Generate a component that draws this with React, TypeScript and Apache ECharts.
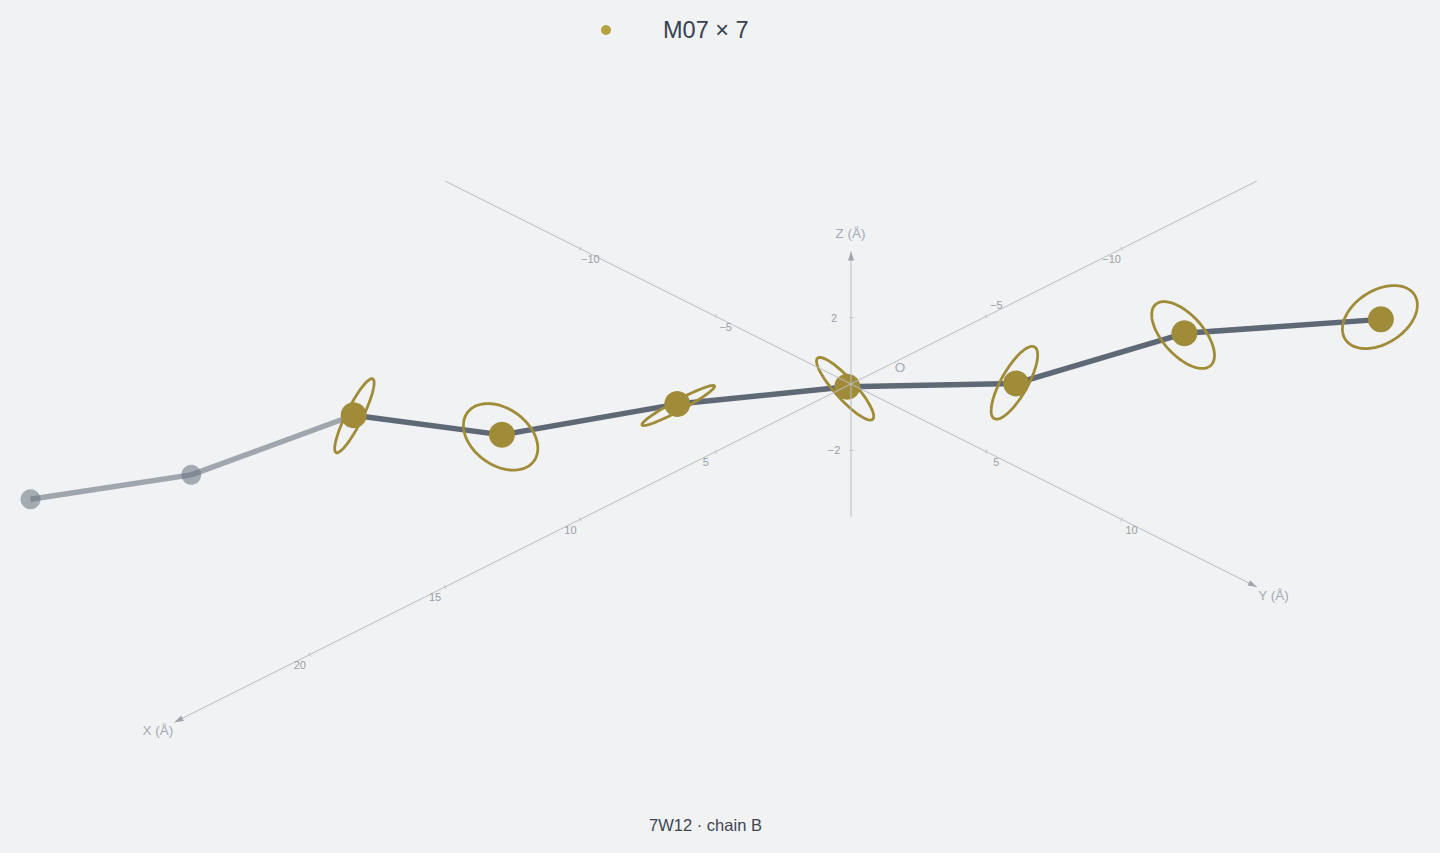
import React, { useEffect, useRef } from "react";
import * as echarts from "echarts";

// Atom positions in Å (depth along the view direction is estimated)
const atomX = [18.16, 14.69, 11.19, 7.95, 4.21, 0.07, -3.55, -6.66, -9.79];
const atomY = [-12.16, -9.69, -7.19, -4.95, -2.21, -0.07, 2.55, 5.66, 9.79];
const atomZ = [-1.03, -0.7, 0.69, -0.31, 0.21, -0.08, -0.39, 1.12, 1.95];
const fadedCount = 2;

// Projected ring outline for each M07 atom (Å on screen, tilt in degrees)
const ringMajor = [1.075, 1.075, 1.075, 1.075, 1.075, 1.075, 1.075];
const ringMinor = [0.215, 0.738, 0.137, 0.267, 0.346, 0.529, 0.693];
const ringTilt = [63.6, -36, 28.3, -47.9, 60.6, -48, 32.7];
const ringShiftH = [0.02, -0.034, 0.026, -0.055, -0.044, -0.034, -0.026];
const ringShiftV = [-0.013, -0.052, -0.037, -0.055, 0.016, -0.044, 0.06];

// Axes
const xRange = [-15, 25];
const yRange = [-15, 15];
const zRange = [-4, 4];
const xTicks = [-10, -5, 5, 10, 15, 20];
const yTicks = [-10, -5, 5, 10];
const zTicks = [-2, 2];

const seriesName = "M07 × 7";
const chartTitle = "7W12 · chain B";

const GOLD = "#a08c38";
const FONT = '"Liberation Sans", Arial, sans-serif';

const yaw = Math.PI / 4;
const pitch = Math.PI / 6;
const project = (x: number, y: number, z: number): [number, number] => [
  (y * Math.cos(yaw) - x * Math.sin(yaw)),
  z * Math.cos(pitch) - (x * Math.cos(yaw) + y * Math.sin(yaw)) * Math.sin(pitch),
];

const fmt = (v: number) => (v < 0 ? "\u2212" + Math.abs(v) : String(v));
const atomPts = atomX.map((x, i) => project(x, atomY[i], atomZ[i]));

function arrow(tip: number[], from: number[], fill: string) {
  const dx = tip[0] - from[0];
  const dy = tip[1] - from[1];
  const l = Math.hypot(dx, dy);
  const ux = dx / l;
  const uy = dy / l;
  const bx = tip[0] - ux * 9;
  const by = tip[1] - uy * 9;
  return {
    type: "polygon",
    shape: {
      points: [
        tip,
        [bx - uy * 3, by + ux * 3],
        [bx + uy * 3, by - ux * 3],
      ],
    },
    style: { fill },
  };
}

function axesItem(_p: any, api: any) {
  const lineCol = "#b9bcc3";
  const arrowCol = "#a0a4ad";
  const tickCol = "#c0c3c9";
  const labelCol = "#9b9ea5";
  const nameCol = "#a6a9b1";
  const kids: any[] = [];
  const pt = (x: number, y: number, z: number) => api.coord(project(x, y, z));
  const seg = (a: number[], b: number[], stroke: string, lineWidth: number) =>
    kids.push({
      type: "line",
      shape: { x1: a[0], y1: a[1], x2: b[0], y2: b[1] },
      style: { stroke, lineWidth },
    });
  const txt = (text: string, p: number[], dx: number, dy: number, fontSize: number, fill: string) =>
    kids.push({
      type: "text",
      x: p[0] + dx,
      y: p[1] + dy,
      style: { text, fill, fontSize, fontFamily: FONT, align: "center", verticalAlign: "middle" },
    });

  const xa = pt(xRange[0], 0, 0);
  const xb = pt(xRange[1], 0, 0);
  const ya = pt(0, yRange[0], 0);
  const yb = pt(0, yRange[1], 0);
  const za = pt(0, 0, zRange[0]);
  const zb = pt(0, 0, zRange[1]);
  seg(xa, xb, lineCol, 1);
  seg(ya, yb, lineCol, 1);
  seg(za, zb, lineCol, 1);
  kids.push(arrow(xb, xa, arrowCol), arrow(yb, ya, arrowCol), arrow(zb, za, arrowCol));

  xTicks.forEach((t) => {
    const p = pt(t, 0, 0);
    seg([p[0] - 1, p[1] - 2], [p[0] + 1, p[1] + 2], tickCol, 1);
    const above = t === -5;
    txt(fmt(t), p, above ? 10 : -10, above ? -11 : 10.5, 11, labelCol);
  });
  yTicks.forEach((t) => {
    const p = pt(0, t, 0);
    seg([p[0] + 1, p[1] - 2], [p[0] - 1, p[1] + 2], tickCol, 1);
    txt(fmt(t), p, 10, 10.5, 11, labelCol);
  });
  zTicks.forEach((t) => {
    const p = pt(0, 0, t);
    seg([p[0] - 2, p[1]], [p[0] + 3, p[1]], tickCol, 1);
    txt(fmt(t), p, -17, 0, 11, labelCol);
  });

  txt("X (Å)", xb, -16.5, 8, 13.5, nameCol);
  txt("Y (Å)", yb, 16.5, 8.5, 13.5, nameCol);
  txt("Z (Å)", zb, -0.5, -18, 13.5, nameCol);
  txt("O", pt(0, 0, 0), 49, -17, 13.5, nameCol);
  return { type: "group", children: kids };
}

function ringItem(_p: any, api: any) {
  const i = api.value(0);
  const c = atomPts[i + fadedCount];
  const t = (ringTilt[i] * Math.PI) / 180;
  const pts: number[][] = [];
  for (let k = 0; k < 96; k++) {
    const w = (k / 96) * 2 * Math.PI;
    const a = ringMajor[i] * Math.cos(w);
    const b = ringMinor[i] * Math.sin(w);
    pts.push(
      api.coord([
        c[0] + ringShiftH[i] + a * Math.cos(t) - b * Math.sin(t),
        c[1] + ringShiftV[i] + a * Math.sin(t) + b * Math.cos(t),
      ])
    );
  }
  return {
    type: "polygon",
    shape: { points: pts },
    style: { fill: "none", stroke: GOLD, lineWidth: 2.8 },
  };
}

export default function App() {
  const ref = useRef<HTMLDivElement>(null);
  useEffect(() => {
    document.body.style.margin = "0";
    const chart = echarts.init(ref.current!, null, { renderer: "svg" });
    const fadedLine = atomPts.slice(0, fadedCount + 1);
    const solidLine = atomPts.slice(fadedCount);
    const lineSeries = (data: number[][], color: string, opacity: number, z: number) => ({
      type: "line",
      data,
      silent: true,
      showSymbol: false,
      symbol: "none",
      clip: false,
      z,
      lineStyle: { color, width: 5.5, opacity, cap: "butt", join: "round" },
    });
    chart.setOption({
      animation: false,
      backgroundColor: "#f0f2f4",
      title: {
        text: chartTitle,
        left: 700.5,
        top: 811,
        textAlign: "center",
        textStyle: { fontFamily: FONT, fontWeight: "normal", fontSize: 16.5, color: "#3f4550" },
      },
      legend: {
        data: [{ name: seriesName, icon: "circle", itemStyle: { color: "#b5a23f" } }],
        left: 596,
        top: 13,
        itemWidth: 104,
        itemHeight: 10,
        itemGap: 0,
        textStyle: { fontFamily: FONT, fontSize: 23.5, color: "#374151", padding: [2, 0, 0, 0] },
        selectedMode: false,
      },
      grid: { left: 0, right: 0, top: 0, bottom: 0 },
      xAxis: { type: "value", show: false, min: -22.237, max: 15.39 },
      yAxis: { type: "value", show: false, min: -12.255, max: 10.034 },
      series: [
        lineSeries(fadedLine, "#5f6875", 0.55, 2),
        lineSeries(solidLine, "#5f6875", 1, 3),
        {
          type: "custom",
          coordinateSystem: "cartesian2d",
          renderItem: ringItem,
          data: ringMinor.map((_, i) => [i]),
          encode: { x: 0 },
          clip: false,
          silent: true,
          z: 4,
        },
        {
          type: "scatter",
          name: "faded",
          data: atomPts.slice(0, fadedCount),
          symbolSize: 20,
          itemStyle: { color: "#6b7785", opacity: 0.58 },
          silent: true,
          clip: false,
          z: 5,
        },
        {
          type: "scatter",
          name: seriesName,
          data: atomPts.slice(fadedCount),
          symbolSize: 26,
          itemStyle: { color: GOLD, opacity: 1 },
          silent: true,
          clip: false,
          z: 6,
        },
        {
          type: "custom",
          coordinateSystem: "cartesian2d",
          renderItem: axesItem,
          data: [[0]],
          encode: { x: 0 },
          clip: false,
          silent: true,
          z: 7,
        },
      ],
    });
    return () => chart.dispose();
  }, []);
  return <div ref={ref} style={{ width: 1440, height: 853 }} />;
}
